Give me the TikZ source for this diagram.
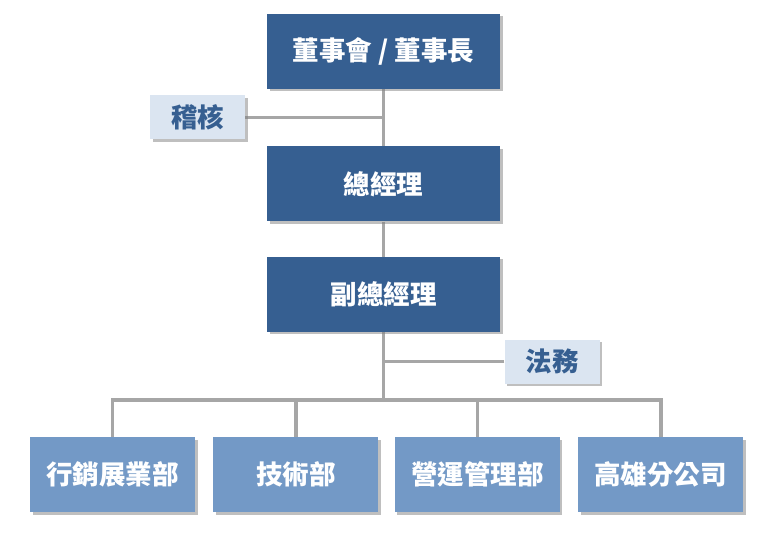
\documentclass[tikz,border=0pt]{standalone}
\usepackage{fontspec}
\newfontfamily\cjk{Noto Sans CJK TC}
\usepackage{xcolor}
\usetikzlibrary{positioning,shadows,backgrounds}
\definecolor{darkblue}{HTML}{365F91}
\definecolor{midblue}{HTML}{7399C6}
\definecolor{paleblue}{HTML}{DBE5F1}
\definecolor{linegray}{HTML}{A6A6A6}

\begin{document}
\begin{tikzpicture}[x=1pt, y=-1pt, font=\cjk\bfseries\fontsize{26.5}{30}\selectfont,
  shd/.style={drop shadow={shadow xshift=2.5pt, shadow yshift=-2.5pt, fill=black!50, opacity=0.5}},
  mgr/.style={shd, fill=darkblue, text=white, minimum width=233pt, minimum height=75pt, inner sep=0pt},
  dept/.style={shd, fill=midblue, text=white, minimum width=165pt, minimum height=75pt, inner sep=0pt},
  aux/.style={shd, fill=paleblue, text=darkblue, minimum width=95pt, minimum height=44pt, inner sep=0pt},
  conn/.style={draw=linegray, line width=3.6pt}]
\useasboundingbox (0,0) rectangle (768,537);
\node[mgr] (board) at (383.5,51.5) {董事會 / 董事長};
\node[mgr, below=57pt of board] (gm) {總經理};
\node[mgr, below=35pt of gm] (dgm) {副總經理};
\node[aux] (audit) at (197.5,117.5) {稽核};
\node[aux] (legal) at (552,361.5) {法務};
\node[dept] (sales) at (112.5,474.5) {行銷展業部};
\node[dept, right=18pt of sales] (tech) {技術部};
\node[dept, right=16pt of tech] (ops) {營運管理部};
\node[dept, right=18pt of ops] (ks) {高雄分公司};
\coordinate (bus) at (383.5,400);
\begin{pgfonlayer}{background}
\draw[conn] (board) -- (gm); \draw[conn] (gm) -- (dgm); \draw[conn] (dgm.south) -- (bus);
\draw[conn] (audit.east) -- (audit.east -| board.south);
\draw[conn] (legal.west) -- (legal.west -| dgm.south);
\draw[conn] (sales.north) |- (bus) -| (ks.north);
\draw[conn] (tech.north) -- (tech.north |- bus); \draw[conn] (ops.north) -- (ops.north |- bus);
\end{pgfonlayer}
\end{tikzpicture}
\end{document}
